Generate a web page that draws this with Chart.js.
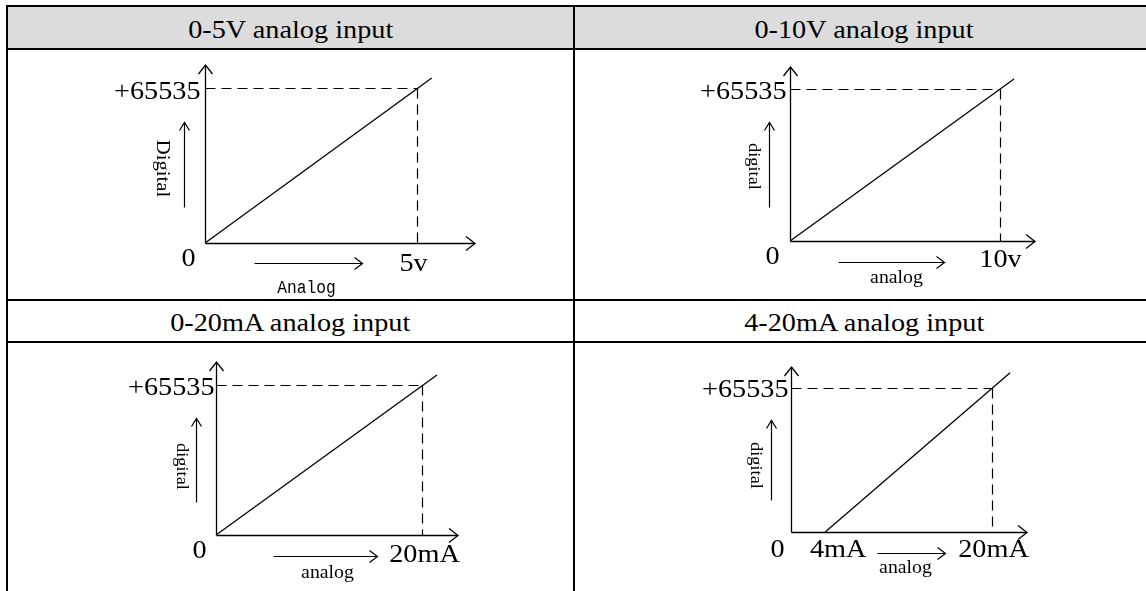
<!DOCTYPE html>
<html>
<head>
<meta charset="utf-8">
<script src="https://cdn.jsdelivr.net/npm/chart.js@4.4.1/dist/chart.umd.min.js"></script>
<style>
  html,body{margin:0;padding:0;background:#fff;}
  body{width:1146px;height:591px;overflow:hidden;position:relative;font-family:"Liberation Serif","Times New Roman",serif;color:#000;}
  .ln{position:absolute;background:#000;}
  .hdr{position:absolute;display:flex;align-items:center;justify-content:center;font-size:25px;line-height:1;padding-top:3px;box-sizing:border-box;}
  .hdr span{display:inline-block;transform:scaleX(1.13);white-space:nowrap;}
  canvas{position:absolute;}
</style>
</head>
<body>
<script>
// ---------------- data ----------------
const titles = ["0-5V analog input", "0-10V analog input", "0-20mA analog input", "4-20mA analog input"];
const fullScaleX = [5, 10, 20, 20];            // analog full-scale value per panel
const fullScaleLabels = ["5v", "10v", "20mA", "20mA"];
const startLabels = [null, null, null, "4mA"];
const startValues = [0, 0, 0, 4];
const digitalMax = 65535;
const digitalMaxLabel = "+65535";
const zeroLabel = "0";
const yAxisNames = ["Digital", "digital", "digital", "digital"];
const xAxisNames = ["Analog", "analog", "analog", "analog"];
// transfer line of each panel (analog value -> digital value)
const line1X = [0, 5.35],  line1Y = [0, 69800];
const line2X = [0, 10.67], line2Y = [0, 69850];
const line3X = [0, 21.46], line3Y = [0, 69900];
const line4X = [3.4, 21.8], line4Y = [0, 72500];
const lineXs = [line1X, line2X, line3X, line4X];
const lineYs = [line1Y, line2Y, line3Y, line4Y];
// axis ranges (arrow tips)
const axisXMax = [6.37, 11.67, 23.5, 23.48];
const axisYMax = [75260, 75020, 75584, 75092];

// ---------------- layout (page pixels) ----------------
const panels = [
  {cell:[8,50,573,299],   area:[205,65,475,243],
   top:[-5,4], zero:[-17,16], xl:[-4,21], start:null, aArr:[49,157,20], aLbl:[101,45], dArr:[-21,-36,-121], dLbl:[-44,-75],
   dFont:'18px "Liberation Serif"', dAlong:1.15, aFont:'18px "Liberation Mono"', aScale:0.9},
  {cell:[575,50,1146,299], area:[790,67,1035,241],
   top:[-4,3], zero:[-18,16], xl:[0,19], start:null, aArr:[48,154,21], aLbl:[106,37], dArr:[-21,-34,-119], dLbl:[-37,-75],
   dFont:'17.5px "Liberation Serif"', dAlong:1.05, aFont:'18px "Liberation Serif"', aScale:1.1},
  {cell:[8,343,573,591],  area:[216,362,458,535],
   top:[-2,3], zero:[-17,16], xl:[2,20], start:null, aArr:[57,161,21], aLbl:[111,38], dArr:[-20,-33,-117], dLbl:[-35,-69],
   dFont:'17.5px "Liberation Serif"', dAlong:1.05, aFont:'18px "Liberation Serif"', aScale:1.1},
  {cell:[575,343,1146,591], area:[791,367,1027,532],
   top:[-3,2], zero:[-14,18], xl:[1,18], start:[7,18], aArr:[86,154,21], aLbl:[114,36], dArr:[-20,-32,-112], dLbl:[-36,-67],
   dFont:'17.5px "Liberation Serif"', dAlong:1.05, aFont:'18px "Liberation Serif"', aScale:1.1}
];

// ---------------- table frame ----------------
function addLine(x,y,w,h){const d=document.createElement('div');d.className='ln';Object.assign(d.style,{left:x+'px',top:y+'px',width:w+'px',height:h+'px'});document.body.appendChild(d);}
function addHeader(x0,y0,x1,y1,txt,bg){const d=document.createElement('div');d.className='hdr';Object.assign(d.style,{left:x0+'px',top:y0+'px',width:(x1-x0)+'px',height:(y1-y0)+'px',background:bg});const s=document.createElement('span');s.textContent=txt;d.appendChild(s);document.body.appendChild(d);}
addHeader(8,7,573,48,titles[0],'#dcdcdc');
addHeader(575,7,1153,48,titles[1],'#dcdcdc');
addHeader(8,301,573,341,titles[2],'#fff');
addHeader(575,301,1153,341,titles[3],'#fff');
addLine(6,5,1160,2); addLine(6,48,1160,2); addLine(6,299,1160,2); addLine(6,341,1160,2);
addLine(6,5,2,600); addLine(573,5,2,600);

// ---------------- drawing helpers ----------------
const snap = v => Math.round(v) + 0.5;
function arrow(ctx,x1,y1,x2,y2,len,half){
  ctx.beginPath();ctx.moveTo(x1,y1);ctx.lineTo(x2,y2);ctx.stroke();
  const a=Math.atan2(y2-y1,x2-x1),c=Math.cos(a),s=Math.sin(a);
  ctx.beginPath();
  ctx.moveTo(x2-len*c+half*s,y2-len*s-half*c);
  ctx.lineTo(x2,y2);
  ctx.lineTo(x2-len*c-half*s,y2-len*s+half*c);
  ctx.stroke();
}
function txt(ctx,str,x,y,font,align,sx){
  ctx.save();ctx.translate(x,y);ctx.scale(sx,1);ctx.font=font;ctx.textAlign=align;ctx.textBaseline='middle';ctx.fillStyle='#000';ctx.fillText(str,0,0);ctx.restore();
}
function vtxt(ctx,str,x,y,font,along){
  ctx.save();ctx.translate(x,y);ctx.rotate(Math.PI/2);ctx.scale(along,1);ctx.font=font;ctx.textAlign='center';ctx.textBaseline='middle';ctx.fillStyle='#000';ctx.fillText(str,0,0);ctx.restore();
}

const decor = {
  id:'decor',
  afterDatasetsDraw(chart){
    const i = chart.options.plugins.decor.index, p = panels[i];
    const ctx = chart.ctx, sx = chart.scales.x, sy = chart.scales.y;
    const ox = snap(sx.getPixelForValue(0)), oy = snap(sy.getPixelForValue(0));
    const xt = sx.getPixelForValue(axisXMax[i]), yt = sy.getPixelForValue(axisYMax[i]);
    const xv = snap(sx.getPixelForValue(fullScaleX[i])), yv = snap(sy.getPixelForValue(digitalMax));
    ctx.save();
    ctx.strokeStyle='#000'; ctx.lineWidth=1.3; ctx.lineCap='butt';
    // axes
    arrow(ctx,ox,oy,xt,oy,9,7);
    arrow(ctx,ox,oy,ox,yt,9,7);
    // dashed guides
    ctx.save(); ctx.lineWidth=1.2; ctx.setLineDash([10,6]);
    ctx.beginPath(); ctx.moveTo(ox,yv); ctx.lineTo(xv,yv); ctx.stroke();
    ctx.beginPath(); ctx.moveTo(xv,yv); ctx.lineTo(xv,oy); ctx.stroke();
    ctx.restore();
    // labels
    const big='25px "Liberation Serif"';
    txt(ctx,digitalMaxLabel,ox+p.top[0],yv+p.top[1],big,'right',1.13);
    txt(ctx,zeroLabel,ox+p.zero[0],oy+p.zero[1],big,'center',1.13);
    txt(ctx,fullScaleLabels[i],xv+p.xl[0],oy+p.xl[1],big,'center',1.13);
    if(startLabels[i]){
      const xs = sx.getPixelForValue(startValues[i]);
      txt(ctx,startLabels[i],xs+p.start[0],oy+p.start[1],big,'center',1.13);
    }
    // analog arrow + name
    ctx.lineWidth=1.2;
    arrow(ctx,ox+p.aArr[0],oy+p.aArr[2],ox+p.aArr[1],oy+p.aArr[2],8,6);
    txt(ctx,xAxisNames[i],ox+p.aLbl[0],oy+p.aLbl[1],p.aFont,'center',p.aScale);
    // digital arrow + name
    arrow(ctx,ox+p.dArr[0],oy+p.dArr[1],ox+p.dArr[0],oy+p.dArr[2],8,5);
    vtxt(ctx,yAxisNames[i],ox+p.dLbl[0],oy+p.dLbl[1],p.dFont,p.dAlong);
    ctx.restore();
  }
};

function build(){
  panels.forEach((p,i)=>{
    const [cx0,cy0,cx1,cy1]=p.cell, w=cx1-cx0, h=cy1-cy0;
    const c=document.createElement('canvas');
    c.width=w; c.height=h;
    Object.assign(c.style,{left:cx0+'px',top:cy0+'px',width:w+'px',height:h+'px'});
    document.body.appendChild(c);
    const [ax0,ay0,ax1,ay1]=p.area;
    new Chart(c,{
      type:'scatter',
      data:{datasets:[{
        data: lineXs[i].map((x,k)=>({x:x,y:lineYs[i][k]})),
        showLine:true, borderColor:'#000', borderWidth:1.3, pointRadius:0, fill:false, tension:0
      }]},
      options:{
        responsive:false, maintainAspectRatio:false, animation:false, devicePixelRatio:1,
        layout:{padding:{left:ax0-cx0, top:ay0-cy0, right:cx1-ax1, bottom:cy1-ay1}},
        plugins:{legend:{display:false}, tooltip:{enabled:false}, decor:{index:i}},
        scales:{
          x:{type:'linear', min:0, max:axisXMax[i], display:false},
          y:{type:'linear', min:0, max:axisYMax[i], display:false}
        },
        events:[]
      },
      plugins:[decor]
    });
  });
}
Promise.all([
  document.fonts.load('25px "Liberation Serif"'),
  document.fonts.load('18px "Liberation Mono"')
]).then(build, build);
</script>
</body>
</html>
